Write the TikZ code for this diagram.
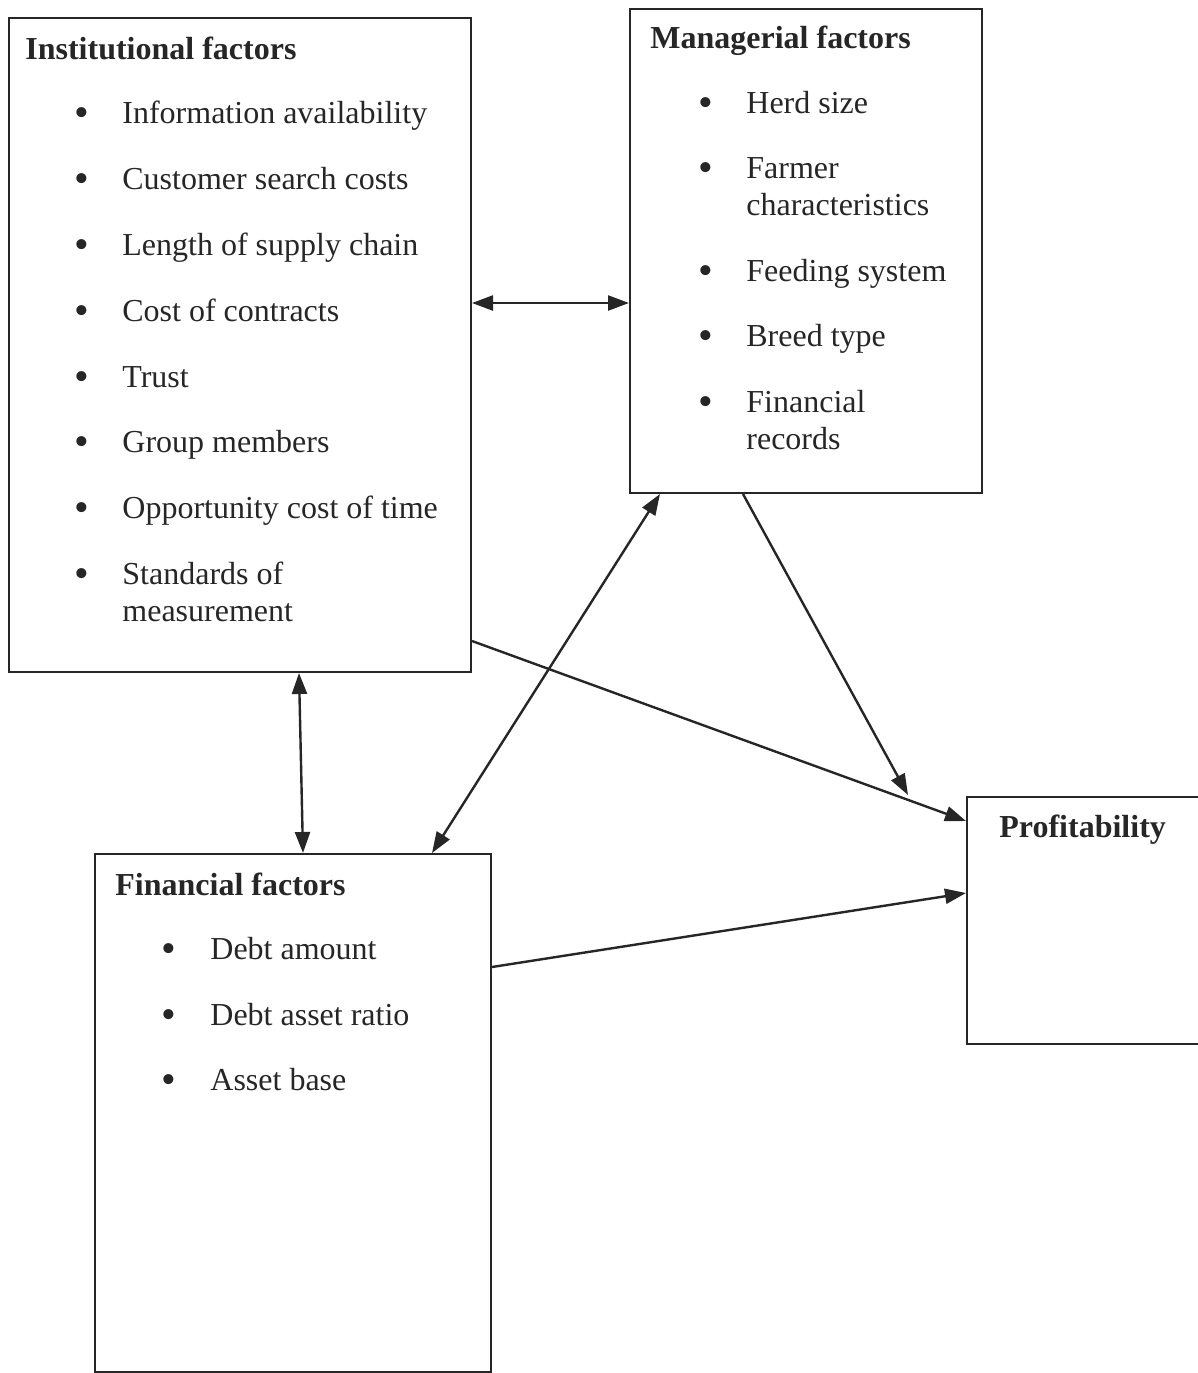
\documentclass[tikz,border=0pt]{standalone}
\usepackage{fontspec}
\setmainfont{Liberation Serif}
\usetikzlibrary{arrows.meta}
\begin{document}
\begin{tikzpicture}[x=0.5pt,y=-0.5pt,
  box/.style={draw=black!85, line width=1pt, rectangle, inner sep=0pt, anchor=north west},
  conn/.style={line width=1.2pt, draw=black!85, {Triangle[length=10.5pt,width=7.5pt]}-{Triangle[length=10.5pt,width=7.5pt]}},
  oneway/.style={line width=1.2pt, draw=black!85, -{Triangle[length=10.5pt,width=7.5pt]}},
  ttl/.style={anchor=base west, inner sep=0pt, font=\fontsize{16}{18.5}\selectfont\bfseries, text=black!85},
  itm/.style={anchor=base west, inner sep=0pt, font=\fontsize{16}{18.5}\selectfont, text=black!85, align=left},
  bul/.style={anchor=base, inner sep=0pt, font=\fontsize{21}{21}\selectfont, text=black!85}]
\useasboundingbox (0,0) rectangle (1198,1373);
% boxes
\node[box, minimum width=462pt*0.5, minimum height=654pt*0.5] (inst) at (8,17) {};
\node[box, minimum width=352pt*0.5, minimum height=484pt*0.5] (man) at (629,8) {};
\node[box, minimum width=396pt*0.5, minimum height=518pt*0.5] (fin) at (94,853) {};
\node[box, minimum width=232pt*0.5, minimum height=247pt*0.5] (prof) at (966,796) {};
% institutional text
\node[ttl] (it) at (25,59) {Institutional factors};
\foreach \y/\ty/\t [count=\i] in {123/123/Information availability, 189/189/Customer search costs, 255/255/Length of supply chain, 321/321/Cost of contracts, 387/387/Trust, 452/452/Group members, 518/518/Opportunity cost of time, 584/621/Standards of\\measurement}{
  \node[bul] (ib\i) at (82,\y+3) {•};
  \node[itm] (ii\i) at (122,\ty) {\t};
}
% managerial text
\node[ttl] (mt) at (650,48) {Managerial factors};
\foreach \y/\ty/\t [count=\i] in {113/113/Herd size, 178/215/Farmer\\characteristics, 281/281/Feeding system, 346/346/Breed type, 412/449/Financial\\records}{
  \node[bul] (mb\i) at (706,\y+3) {•};
  \node[itm] (mi\i) at (746,\ty) {\t};
}
% financial text
\node[ttl] (ft) at (115,895) {Financial factors};
\foreach \y/\t [count=\i] in {959/Debt amount, 1025/Debt asset ratio, 1090/Asset base}{
  \node[bul] (fb\i) at (169,\y+3) {•};
  \node[itm] (fi\i) at (210,\y) {\t};
}
% profitability
\node[ttl] (pt) at (999,837) {Profitability};
% connectors
\coordinate (mp) at (908,795);
\draw[conn] (inst.east |- 0,303) -- (man.west |- 0,303);
\draw[conn] (inst.south -| 299,0) -- (fin.north -| 303,0);
\draw[conn] (man.south -| 660,0) -- (fin.north -| 432,0);
\draw[oneway] (inst.east |- 0,641) -- (prof.west |- 0,821);
\draw[oneway] (man.south -| 743,0) -- (mp);
\draw[oneway] (fin.east |- 0,967) -- (prof.west |- 0,893);
\end{tikzpicture}
\end{document}
